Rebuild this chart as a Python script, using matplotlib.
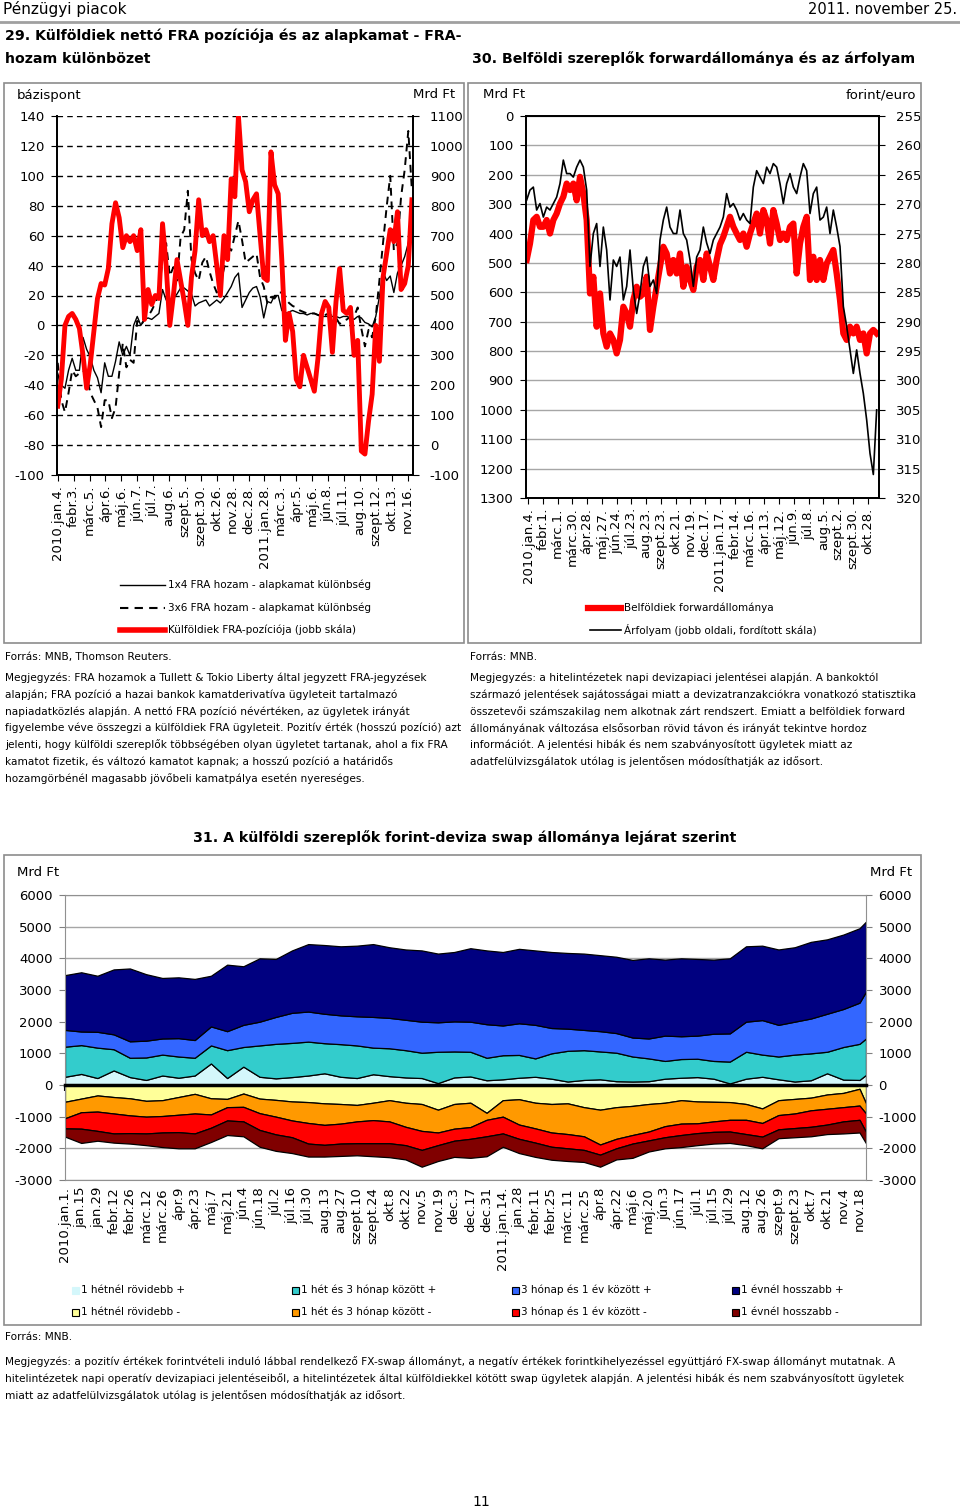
import numpy as np
import matplotlib
matplotlib.use('Agg')
import matplotlib.pyplot as plt
from matplotlib.lines import Line2D
from matplotlib.patches import Rectangle

plt.rcParams['font.family'] = 'DejaVu Sans'
plt.rcParams['axes.unicode_minus'] = False

# ---------------- data ----------------
# 29. chart: weekly readings, 2010.jan.4. - 2011.nov.
fra_1x4 = [-32,-40,-42,-30,-22,-30,-30,-8,-16,-21,
           -30,-35,-45,-25,-34,-34,-24,-11,-20,-14,
           -20,0,6,0,4,5,4,6,8,24,
           17,17,18,21,25,25,23,21,13,15,
           16,17,13,15,17,15,18,22,26,32,
           35,12,17,22,25,26,19,5,16,15,
           20,20,10,8,9,10,9,8,8,7,
           8,8,7,6,6,6,6,6,5,6,
           6,5,4,6,5,2,1,-1,6,19,
           36,30,33,22,35,40,46,55,68]
fra_3x6 = [-25,-50,-58,-45,-30,-34,-32,-30,-34,-45,
           -50,-55,-68,-50,-50,-62,-55,-32,-12,-28,
           -23,-25,3,0,4,6,10,15,21,45,
           55,33,39,30,59,64,90,44,35,30,
           42,46,36,28,22,28,38,53,50,60,
           70,57,42,44,46,48,32,26,15,19,
           18,22,22,18,15,13,12,10,9,8,
           8,8,7,6,7,8,6,5,1,3,
           4,6,6,12,-2,-14,-3,-8,6,30,
           55,79,100,50,55,86,104,130,90]
fra_pos = [130,220,400,430,440,420,390,300,190,270,
           380,490,540,535,590,740,810,760,660,700,
           680,700,650,720,420,520,470,500,490,740,
           600,400,500,620,550,480,400,560,650,820,
           700,720,680,700,600,500,700,620,890,830,
           1100,920,880,780,820,840,700,560,550,980,
           870,840,620,350,440,380,220,195,300,260,
           220,180,290,440,480,460,310,480,590,450,
           440,460,300,350,-20,-30,80,170,400,280,
           560,640,720,680,780,520,540,600,820]
labels29 = ['2010.jan.4.', 'febr.3.', 'márc.5.', 'ápr.6.', 'máj.6.', 'jún.7.', 'júl.7.',
            'aug.6.', 'szept.5.', 'szept.30.', 'okt.26.', 'nov.28.', 'dec.28.',
            '2011.jan.28.', 'márc.3.', 'ápr.5.', 'máj.6.', 'jún.8.', 'júl.11.',
            'aug.10.', 'szept.12.', 'okt.13.', 'nov.16.']

# 30. chart
fwd_stock = [490,434,354,343,377,377,354,400,354,332,
             298,275,230,252,230,287,207,264,354,604,
             547,717,604,740,785,740,762,808,762,649,
             672,717,626,581,615,604,547,728,649,581,
             513,445,468,536,490,536,468,581,513,558,
             592,513,490,558,468,513,558,490,437,411,
             377,343,377,400,422,400,445,400,366,332,
             400,320,354,434,320,366,422,400,422,377,
             366,536,434,377,343,558,479,558,490,558,
             502,479,456,536,626,740,762,717,740,717,
             762,740,808,740,728,740]
eurhuf = [269.3,267.6,267.1,271.0,269.9,272.2,270.5,271.0,269.9,268.8,
          266.5,262.5,264.8,264.8,265.4,263.7,262.5,263.7,267.6,280.6,
          275.0,273.3,280.6,273.9,277.8,286.3,279.5,280.6,279.0,286.3,
          284.0,277.8,284.6,288.6,285.2,280.6,279.0,284.0,282.9,285.2,
          276.1,272.7,270.5,273.9,275.0,275.0,271.0,275.0,276.1,279.5,
          284.0,279.0,277.8,273.9,276.6,278.4,276.1,275.0,273.9,272.2,
          268.2,270.5,269.9,271.0,272.7,271.6,272.7,273.3,267.1,264.3,
          265.4,266.5,263.7,264.8,263.1,263.7,266.5,269.9,266.5,264.8,
          267.1,268.2,265.4,263.1,264.3,271.6,268.2,267.1,272.7,272.2,
          270.5,275.0,271.0,273.9,277.2,287.4,290.8,294.8,298.8,294.8,
          298.8,302.2,306.7,312.4,316.0,305.0]
labels30 = ['2010.jan.4.', 'febr.1.', 'márc.1.', 'márc.30.', 'ápr.28.', 'máj.27.',
            'jún.24.', 'júl.23.', 'aug.23.', 'szept.23.', 'okt.21.', 'nov.19.',
            'dec.17.', '2011.jan.17.', 'febr.14.', 'márc.16.', 'ápr.13.', 'máj.12.',
            'jún.9.', 'júl.8.', 'aug.5.', 'szept.2.', 'szept.30.', 'okt.28.']

# 31. chart: biweekly readings (business day index)
days31 = list(range(0, 491, 10)) + [494]
pos_1w = [260,350,220,460,250,160,300,230,300,680,220,580,260,210,250,300,370,260,220,340,
          280,240,220,60,240,270,150,180,230,260,200,110,160,180,120,110,120,200,230,250,
          200,50,200,260,180,110,150,370,170,160,320]
pos_1w3m = [950,910,960,670,610,710,660,670,560,570,880,620,990,1090,1080,1070,950,1030,1030,840,
            880,860,800,990,820,780,710,760,720,580,800,970,940,880,900,790,720,560,590,580,
            560,690,850,700,720,850,850,680,1030,1140,1150]
pos_3m1y = [530,430,500,470,520,530,510,580,560,600,600,700,750,850,950,950,930,910,920,970,
            960,960,980,930,950,950,1060,940,1000,1060,800,700,640,640,620,600,630,800,720,730,
            860,890,950,1090,1000,1040,1100,1200,1200,1300,1480]
pos_1y = [1730,1870,1770,2050,2300,2100,1910,1920,1930,1600,2100,1850,2000,1830,1970,2130,2170,2180,2230,2300,
          2230,2220,2250,2170,2190,2320,2330,2320,2350,2350,2400,2390,2410,2400,2410,2450,2530,2400,2460,2420,
          2340,2370,2380,2350,2380,2350,2420,2350,2350,2350,2210]
neg_1w = [-530,-430,-330,-380,-420,-500,-480,-380,-280,-420,-440,-270,-430,-470,-520,-540,-580,-600,-630,-560,
          -480,-560,-600,-780,-600,-560,-880,-480,-450,-560,-600,-580,-700,-780,-700,-660,-600,-560,-480,-520,
          -530,-540,-600,-740,-480,-440,-400,-300,-250,-120,-580]
neg_1w3m = [-520,-430,-510,-520,-540,-500,-500,-560,-620,-510,-260,-420,-460,-530,-600,-660,-680,-620,-520,-550,
            -670,-760,-850,-720,-780,-770,-220,-520,-800,-810,-900,-970,-920,-1100,-1000,-920,-870,-740,-740,-690,
            -620,-560,-500,-460,-470,-460,-400,-450,-450,-530,-320]
neg_3m1y = [-320,-520,-610,-630,-560,-530,-520,-550,-630,-420,-420,-460,-530,-560,-530,-650,-630,-630,-690,-730,
            -690,-580,-600,-400,-380,-370,-520,-530,-450,-450,-450,-450,-430,-320,-300,-270,-280,-350,-360,-310,
            -330,-370,-450,-430,-450,-460,-520,-500,-450,-450,-580]
neg_1y = [-260,-450,-310,-290,-330,-370,-460,-510,-470,-450,-460,-470,-530,-520,-500,-410,-370,-390,-380,-410,
          -440,-450,-530,-500,-510,-600,-630,-420,-450,-450,-410,-400,-380,-380,-350,-450,-350,-350,-380,-380,
          -370,-360,-350,-370,-280,-290,-300,-300,-380,-400,-360]
labels31 = ['2010.jan.1.', 'jan.15', 'jan.29', 'febr.12', 'febr.26', 'márc.12', 'márc.26', 'ápr.9',
            'ápr.23', 'máj.7', 'máj.21', 'jún.4', 'jún.18', 'júl.2', 'júl.16', 'júl.30', 'aug.13',
            'aug.27', 'szept.10', 'szept.24', 'okt.8', 'okt.22', 'nov.5', 'nov.19', 'dec.3', 'dec.17',
            'dec.31', '2011.jan.14.', 'jan.28', 'febr.11', 'febr.25', 'márc.11', 'márc.25', 'ápr.8',
            'ápr.22', 'máj.6', 'máj.20', 'jún.3', 'jún.17', 'júl.1', 'júl.15', 'júl.29', 'aug.12',
            'aug.26', 'szept.9', 'szept.23', 'okt.7', 'okt.21', 'nov.4', 'nov.18']
names31 = ['1 hétnél rövidebb +', '1 hét és 3 hónap között +', '3 hónap és 1 év között +', '1 évnél hosszabb +',
           '1 hétnél rövidebb -', '1 hét és 3 hónap között -', '3 hónap és 1 év között -', '1 évnél hosszabb -']
colors31 = ['#D4F7FB', '#33CCCC', '#3366FF', '#000080', '#FFFF99', '#FF9900', '#FF0000', '#800000']

note29 = ['Megjegyzés: FRA hozamok a Tullett & Tokio Liberty által jegyzett FRA-jegyzések',
          'alapján; FRA pozíció a hazai bankok kamatderivatíva ügyleteit tartalmazó',
          'napiadatközlés alapján. A nettó FRA pozíció névértéken, az ügyletek irányát',
          'figyelembe véve összegzi a külföldiek FRA ügyleteit. Pozitív érték (hosszú pozíció) azt',
          'jelenti, hogy külföldi szereplők többségében olyan ügyletet tartanak, ahol a fix FRA',
          'kamatot fizetik, és változó kamatot kapnak; a hosszú pozíció a határidős',
          'hozamgörbénél magasabb jövőbeli kamatpálya esetén nyereséges.']
note30 = ['Megjegyzés: a hitelintézetek napi devizapiaci jelentései alapján. A bankoktól',
          'származó jelentések sajátosságai miatt a devizatranzakciókra vonatkozó statisztika',
          'összetevői számszakilag nem alkotnak zárt rendszert. Emiatt a belföldiek forward',
          'állományának változása elsősorban rövid távon és irányát tekintve hordoz',
          'információt. A jelentési hibák és nem szabványosított ügyletek miatt az',
          'adatfelülvizsgálatok utólag is jelentősen módosíthatják az idősort.']
note31 = ['Megjegyzés: a pozitív értékek forintvételi induló lábbal rendelkező FX-swap állományt, a negatív értékek forintkihelyezéssel együttjáró FX-swap állományt mutatnak. A',
          'hitelintézetek napi operatív devizapiaci jelentéseiből, a hitelintézetek által külföldiekkel kötött swap ügyletek alapján. A jelentési hibák és nem szabványosított ügyletek',
          'miatt az adatfelülvizsgálatok utólag is jelentősen módosíthatják az idősort.']

# ---------------- layout helpers (pixels -> figure fraction) ----------------
W, H = 960, 1510
def fx(x): return x / W
def fy(y): return 1 - y / H
def box(l, t, r, b): return [fx(l), fy(b), fx(r) - fx(l), fy(t) - fy(b)]
def txt(x, y, s, **kw):
    kw.setdefault('va', 'center')
    kw.setdefault('fontsize', 7.6)
    fig.text(fx(x), fy(y), s, **kw)

fig = plt.figure(figsize=(9.6, 15.1), dpi=100)
TS = 9.5  # tick font size
TT = 10.2  # title font size

# header
txt(3, 9, 'Pénzügyi piacok', fontsize=11)
txt(957, 9, '2011. november 25.', fontsize=10.5, ha='right')
fig.add_artist(Line2D([0, 1], [fy(22)] * 2, color='#A0A0A0', lw=2))
txt(5, 36, '29. Külföldiek nettó FRA pozíciója és az alapkamat - FRA-', fontsize=TT, weight='bold')
txt(5, 59, 'hozam különbözet', fontsize=TT, weight='bold')
txt(472, 59, '30. Belföldi szereplők forwardállománya és az árfolyam', fontsize=TT, weight='bold')

for r in [(4, 83, 464, 643), (468, 83, 921, 643), (4, 855, 921, 1325)]:
    fig.add_artist(Rectangle((fx(r[0]), fy(r[3])), fx(r[2]) - fx(r[0]), fy(r[1]) - fy(r[3]),
                             fill=False, edgecolor='#8C8C8C', lw=1.2))

# ---------------- chart 29 ----------------
k = np.arange(len(fra_pos))
ax1 = fig.add_axes(box(57, 116, 413, 475))
ax1.plot(k, fra_1x4, color='black', lw=1)
ax1.plot(k, fra_3x6, color='black', lw=1.4, ls=(0, (4, 3)))
ax1.set_ylim(-100, 140)
ax1.set_yticks(range(-100, 141, 20))
ax1.set_xlim(-0.2, 98.3)
ax1.set_xticks(np.arange(len(labels29)) * 4.4)
ax1.set_xticklabels(labels29, rotation=90, fontsize=TS)
ax1.grid(axis='y', color='black', lw=1, ls=(0, (4, 3)))
ax1.tick_params(axis='y', labelsize=TS, length=4, pad=5)
ax1.tick_params(axis='x', length=4, pad=3)
ax1b = ax1.twinx()
ax1b.plot(k, fra_pos, color='#FF0000', lw=3.5)
ax1b.set_ylim(-100, 1100)
ax1b.set_yticks(range(-100, 1101, 100))
ax1b.tick_params(axis='y', labelsize=TS, length=4, pad=8)
for a in (ax1, ax1b):
    a.spines['top'].set_visible(False)
    for s in ('left', 'right', 'bottom'):
        a.spines[s].set_linewidth(1.3)
txt(17, 95, 'bázispont', fontsize=TS)
txt(455, 95, 'Mrd Ft', fontsize=TS, ha='right')

leg29 = [('1x4 FRA hozam - alapkamat különbség', dict(color='black', lw=1)),
         ('3x6 FRA hozam - alapkamat különbség', dict(color='black', lw=1.5, ls=(0, (4, 3)))),
         ('Külföldiek FRA-pozíciója (jobb skála)', dict(color='#FF0000', lw=4))]
for (lab, st), y in zip(leg29, [585, 608, 630]):
    fig.add_artist(Line2D([fx(120), fx(165)], [fy(y)] * 2, **st))
    txt(168, y, lab, fontsize=7.5)

# ---------------- chart 30 ----------------
j = np.arange(len(fwd_stock))
ax2 = fig.add_axes(box(526, 116, 879, 498))
ax2.plot(j, fwd_stock, color='#FF0000', lw=4.5)
ax2.set_ylim(1300, 0)
ax2.set_yticks(range(0, 1301, 100))
ax2.set_xlim(-0.2, 105.7)
ax2.set_xticks(0.4 + np.arange(len(labels30)) * 4.43)
ax2.set_xticklabels(labels30, rotation=90, fontsize=TS)
ax2.grid(axis='y', color='#A6A6A6', lw=1)
ax2.set_axisbelow(True)
ax2.tick_params(axis='y', labelsize=TS, length=4, pad=5)
ax2.tick_params(axis='x', length=4, pad=3)
ax2b = ax2.twinx()
ax2b.plot(j, eurhuf, color='black', lw=1.2)
ax2b.set_ylim(320, 255)
ax2b.set_yticks(range(255, 321, 5))
ax2b.tick_params(axis='y', labelsize=TS, length=4, pad=8)
for a in (ax2, ax2b):
    for s in a.spines.values():
        s.set_linewidth(1.3)
txt(483, 95, 'Mrd Ft', fontsize=TS)
txt(916, 95, 'forint/euro', fontsize=TS, ha='right')

fig.add_artist(Line2D([fx(588), fx(621)], [fy(608)] * 2, color='#FF0000', lw=4.5))
txt(624, 608, 'Belföldiek forwardállománya', fontsize=7.5)
fig.add_artist(Line2D([fx(590), fx(621)], [fy(630)] * 2, color='black', lw=1.2))
txt(624, 630, 'Árfolyam (jobb oldali, fordított skála)', fontsize=7.5)

# notes under 29 / 30
txt(5, 657, 'Forrás: MNB, Thomson Reuters.')
for i, line in enumerate(note29):
    txt(5, 678 + i * 16.7, line)
txt(470, 657, 'Forrás: MNB.')
for i, line in enumerate(note30):
    txt(470, 678 + i * 16.7, line)

# ---------------- chart 31 ----------------
txt(465, 838, '31. A külföldi szereplők forint-deviza swap állománya lejárat szerint',
    fontsize=TT, weight='bold', ha='center')
ax3 = fig.add_axes(box(65, 895, 866, 1180))
ax3.stackplot(days31, pos_1w, pos_1w3m, pos_3m1y, pos_1y, colors=colors31[:4],
              edgecolor='black', lw=0.9)
ax3.stackplot(days31, neg_1w, neg_1w3m, neg_3m1y, neg_1y, colors=colors31[4:],
              edgecolor='black', lw=0.9)
ax3.set_ylim(-3000, 6000)
ax3.set_yticks(range(-3000, 6001, 1000))
ax3.set_xlim(0, 494)
ticks31 = np.arange(len(labels31)) * 10
ax3.set_xticks(ticks31)
ax3.grid(axis='y', color='#A6A6A6', lw=1)
ax3.set_axisbelow(True)
ax3.yaxis.set_ticks_position('both')
ax3.tick_params(axis='y', labelsize=TS, labelright=True, length=4, pad=5, color='#808080')
ax3.spines['bottom'].set_position(('data', 0))
ax3.spines['bottom'].set_linewidth(2.5)
ax3.tick_params(axis='x', length=4, width=1.5, direction='out', labelbottom=False)
for s in ('left', 'right', 'top'):
    ax3.spines[s].set_color('#909090')
sec = ax3.secondary_xaxis('bottom')
sec.set_xticks(ticks31)
sec.set_xticklabels(labels31, rotation=90, fontsize=TS)
sec.tick_params(length=0, pad=5)
sec.spines['bottom'].set_color('#909090')
txt(17, 873, 'Mrd Ft', fontsize=TS)
txt(912, 873, 'Mrd Ft', fontsize=TS, ha='right')

for i, (name, col) in enumerate(zip(names31, colors31)):
    x0 = 72 + (i % 4) * 220
    y0 = 1290 if i < 4 else 1312
    fig.add_artist(Rectangle((fx(x0), fy(y0 + 3.5)), fx(7), 7 / H, facecolor=col,
                             edgecolor='black' if i else '#D4F7FB', lw=0.8))
    txt(x0 + 9, y0, name, fontsize=7.5)

txt(5, 1337, 'Forrás: MNB.')
for i, line in enumerate(note31):
    txt(5, 1362 + i * 17, line)
txt(481, 1502, '11', fontsize=10, ha='center')

fig.savefig('out.png', dpi=100)
